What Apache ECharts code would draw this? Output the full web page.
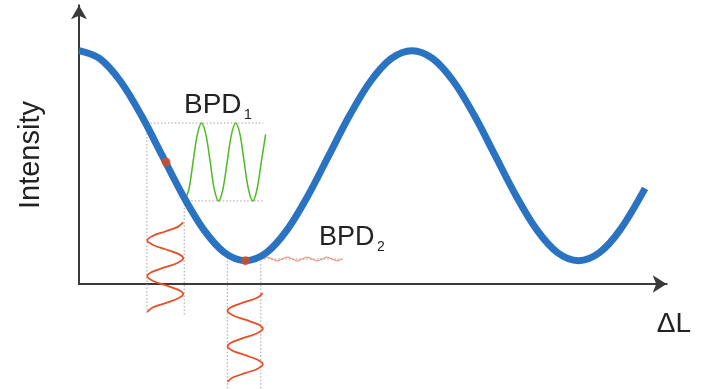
<!DOCTYPE html>
<html>
<head>
<meta charset="utf-8">
<script src="https://cdn.jsdelivr.net/npm/echarts@6/dist/echarts.min.js"></script>
<style>
  html, body { margin: 0; padding: 0; background: #fff; }
  #main { width: 702px; height: 389px; }
</style>
</head>
<body>
<div id="main"></div>
<script>
// 干涉曲线 (x: 相位, 单位 π; y: 强度)
var blueX = [0, 0.125, 0.25, 0.375, 0.5, 0.625, 0.75, 0.875, 1, 1.125, 1.25, 1.375, 1.5, 1.625, 1.75, 1.875,
             2, 2.125, 2.25, 2.375, 2.5, 2.625, 2.75, 2.875, 3, 3.125, 3.25, 3.4]
var blueY = [1, 0.966, 0.868, 0.722, 0.55, 0.378, 0.232, 0.134, 0.1, 0.134, 0.232, 0.378, 0.55, 0.722, 0.868, 0.966,
             1, 0.966, 0.868, 0.722, 0.55, 0.378, 0.232, 0.134, 0.1, 0.134, 0.232, 0.41]

// BPD1 输出 (绿色)
var greenX = [0.634, 0.660, 0.685, 0.711, 0.736, 0.762, 0.788, 0.813, 0.839, 0.864,
              0.890, 0.916, 0.941, 0.967, 0.992, 1.018, 1.044, 1.069, 1.095, 1.121]
var greenY = [0.356, 0.405, 0.523, 0.641, 0.69, 0.641, 0.523, 0.405, 0.356, 0.405,
              0.523, 0.641, 0.69, 0.641, 0.523, 0.405, 0.356, 0.405, 0.523, 0.641]

// 输入调制 (红色, 竖直)
var wave1X = [0.626, 0.594, 0.518, 0.442, 0.410, 0.442, 0.518, 0.594, 0.626, 0.594, 0.518,
              0.442, 0.410, 0.442, 0.518, 0.594, 0.626, 0.594, 0.518, 0.442, 0.410]
var wave1Y = [0.264, 0.245, 0.225, 0.206, 0.187, 0.168, 0.149, 0.130, 0.110, 0.091, 0.072,
              0.053, 0.034, 0.014, -0.005, -0.024, -0.043, -0.062, -0.082, -0.101, -0.120]
var wave2X = [1.104, 1.073, 0.998, 0.923, 0.892, 0.923, 0.998, 1.073, 1.104, 1.073, 0.998,
              0.923, 0.892, 0.923, 0.998, 1.073, 1.104, 1.073, 0.998, 0.923, 0.892]
var wave2Y = [-0.039, -0.058, -0.077, -0.096, -0.115, -0.134, -0.153, -0.172, -0.191, -0.210, -0.229,
              -0.248, -0.267, -0.286, -0.305, -0.325, -0.344, -0.363, -0.382, -0.401, -0.420]

// BPD2 输出 (很小的波动)
var rippleX = [1.10, 1.13, 1.16, 1.19, 1.22, 1.25, 1.28, 1.31, 1.34, 1.37, 1.40, 1.43, 1.46, 1.49, 1.52, 1.55, 1.58]
var rippleY = [0.107, 0.115, 0.107, 0.099, 0.107, 0.115, 0.107, 0.099, 0.107, 0.115, 0.107, 0.099, 0.107, 0.115, 0.107, 0.099, 0.107]

// 工作点
var dots = [[0.523, 0.523], [1.0, 0.1]]

// 虚线辅助线
var guides = [
  [[0.408, 0.69], [1.107, 0.69]],
  [[0.632, 0.356], [1.107, 0.356]],
  [[0.408, 0.69], [0.408, -0.125]],
  [[0.632, 0.356], [0.632, -0.133]],
  [[1.05, 0.107], [1.595, 0.107]],
  [[0.891, 0.115], [0.891, -0.45]],
  [[1.092, 0.115], [1.092, -0.45]]
]

function zip(xs, ys) {
  return xs.map(function (x, i) { return [x, ys[i]] })
}

var myChart = echarts.init(document.getElementById('main'))

var series = guides.map(function (seg) {
  return {
    type: 'line', data: seg, symbol: 'none', clip: false, silent: true,
    lineStyle: { color: '#a0a0a0', width: 1, type: [1.5, 2] }
  }
})

series.push(
  { type: 'line', data: zip(greenX, greenY), smooth: 0.33, symbol: 'none', clip: false,
    lineStyle: { color: '#4cbb24', width: 1.5 } },
  { type: 'line', data: zip(wave1X, wave1Y), smooth: 0.33, symbol: 'none', clip: false,
    lineStyle: { color: '#e84e26', width: 1.8 } },
  { type: 'line', data: zip(wave2X, wave2Y), smooth: 0.33, symbol: 'none', clip: false,
    lineStyle: { color: '#e84e26', width: 1.8 } },
  { type: 'line', data: zip(rippleX, rippleY), smooth: 0.33, symbol: 'none', clip: false,
    lineStyle: { color: '#ee7050', width: 1.2, opacity: 0.7 } },
  { type: 'line', data: zip(blueX, blueY), smooth: 0.33, symbol: 'none', clip: false,
    lineStyle: { color: '#2a72c2', width: 7, cap: 'butt' } },
  { type: 'scatter', data: dots, symbolSize: 9, clip: false, z: 5,
    itemStyle: { color: '#e04a1a' } }
)

var option = {
  animation: false,
  grid: { left: 79, top: 5.2, width: 587.7, height: 278.8 },
  xAxis: {
    type: 'value', min: 0, max: 3.53,
    axisLine: { lineStyle: { color: '#3a3a3a', width: 2 }, symbol: ['none', 'arrow'], symbolSize: [13, 14] },
    axisTick: { show: false }, axisLabel: { show: false }, splitLine: { show: false }
  },
  yAxis: {
    type: 'value', min: 0, max: 1.195,
    axisLine: { show: true, lineStyle: { color: '#3a3a3a', width: 2 }, symbol: ['none', 'arrow'], symbolSize: [12, 14] },
    axisTick: { show: false }, axisLabel: { show: false }, splitLine: { show: false }
  },
  graphic: [
    { type: 'text', x: 31, y: 155, rotation: Math.PI / 2,
      style: { text: 'Intensity', font: '29px "Liberation Sans", Arial', fill: '#222', align: 'center', verticalAlign: 'middle' } },
    { type: 'text', x: 674, y: 324,
      style: { text: 'ΔL', font: '28px "Liberation Sans", Arial', fill: '#222', align: 'center', verticalAlign: 'middle' } },
    { type: 'text', x: 184, y: 105,
      style: { text: 'BPD', font: '28px "Liberation Sans", Arial', fill: '#222', align: 'left', verticalAlign: 'middle' } },
    { type: 'text', x: 244, y: 115,
      style: { text: '1', font: '14px "Liberation Sans", Arial', fill: '#222', align: 'left', verticalAlign: 'middle' } },
    { type: 'text', x: 319, y: 238,
      style: { text: 'BPD', font: '27px "Liberation Sans", Arial', fill: '#222', align: 'left', verticalAlign: 'middle' } },
    { type: 'text', x: 377, y: 247,
      style: { text: '2', font: '14px "Liberation Sans", Arial', fill: '#222', align: 'left', verticalAlign: 'middle' } }
  ],
  series: series
}

myChart.setOption(option)
</script>
</body>
</html>
